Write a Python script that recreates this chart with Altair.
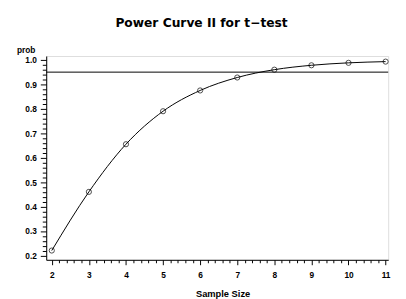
import altair as alt
import pandas as pd

sample_size = [2, 3, 4, 5, 6, 7, 8, 9, 10, 11]
prob = [0.22, 0.46, 0.655, 0.79, 0.875, 0.928, 0.96, 0.978, 0.988, 0.993]
x_major = [2, 3, 4, 5, 6, 7, 8, 9, 10, 11]
y_major = [0.2, 0.3, 0.4, 0.5, 0.6, 0.7, 0.8, 0.9, 1.0]
x_minor = [round(2 + i * 0.2, 2) for i in range(46) if i % 5 != 0]
y_minor = [round(0.2 + i * 0.02, 3) for i in range(41) if i % 5 != 0]
ref_level = [0.95]

df = pd.DataFrame({"n": sample_size, "p": prob})
ref = pd.DataFrame({"r": ref_level})

FONT = "Liberation Sans"
xs = alt.Scale(domain=[1.85, 11.07], nice=False, zero=False)
ys = alt.Scale(domain=[0.182, 1.016], nice=False, zero=False)

x_axis = alt.Axis(values=x_major, format="d", tickSize=5, labelPadding=6,
                  title="Sample Size", titleFontSize=9.5, titleFont=FONT, titleFontWeight="bold",
                  titlePadding=10, titleX=180, labelFont=FONT, labelFontSize=8.5, labelFontWeight="bold",
                  grid=False, domainColor="black", tickColor="black", labelColor="black",
                  titleColor="black", orient="bottom", labelFlush=False, labelOverlap=False)
y_axis = alt.Axis(values=y_major, format=".1f", tickSize=6, labelPadding=4,
                  title="prob", titleAngle=0, titleFontSize=8.5, titleFont=FONT,
                  titleFontWeight="bold", titleX=-21, titleY=-7, titleAlign="center",
                  titleBaseline="middle",
                  labelFont=FONT, labelFontSize=8.5, labelFontWeight="bold",
                  grid=False, domainColor="black", tickColor="black", labelColor="black",
                  titleColor="black", orient="left", labelFlush=False, labelOverlap=False)

line = alt.Chart(df).mark_line(color="black", strokeWidth=1, interpolate="monotone").encode(
    x=alt.X("n:Q", scale=xs, axis=x_axis),
    y=alt.Y("p:Q", scale=ys, axis=y_axis),
)
pts = alt.Chart(df).mark_point(shape="circle", filled=False, color="black", size=28, strokeWidth=1).encode(
    x=alt.X("n:Q", scale=xs, axis=None),
    y=alt.Y("p:Q", scale=ys, axis=None),
)
rule = alt.Chart(ref).mark_rule(color="black", strokeWidth=1).encode(
    y=alt.Y("r:Q", scale=ys, axis=None),
)
minor = alt.Chart(df).mark_point(opacity=0).encode(
    x=alt.X("n:Q", scale=xs, axis=alt.Axis(values=x_minor, tickSize=3, labels=False, title=None,
                                            domain=False, grid=False, orient="bottom", tickColor="black")),
    y=alt.Y("p:Q", scale=ys, axis=alt.Axis(values=y_minor, tickSize=4, labels=False, title=None,
                                            domain=False, grid=False, orient="left", tickColor="black")),
)

chart = alt.layer(line, pts, rule, minor).resolve_axis(x="independent", y="independent").properties(
    width=349, height=208,
    title=alt.TitleParams("Power Curve II for t\u2212test", font="DejaVu Sans", fontSize=12.5, fontWeight="bold",
                          color="black", anchor="middle", offset=16, dx=-16),
    autosize=alt.AutoSizeParams(type="none"),
    padding={"left": 39, "top": 46, "right": 10, "bottom": 37},
).configure_view(stroke="black", strokeWidth=1).configure(background="white")

chart.save("out.html", embed_options={"renderer": "svg", "actions": False})
